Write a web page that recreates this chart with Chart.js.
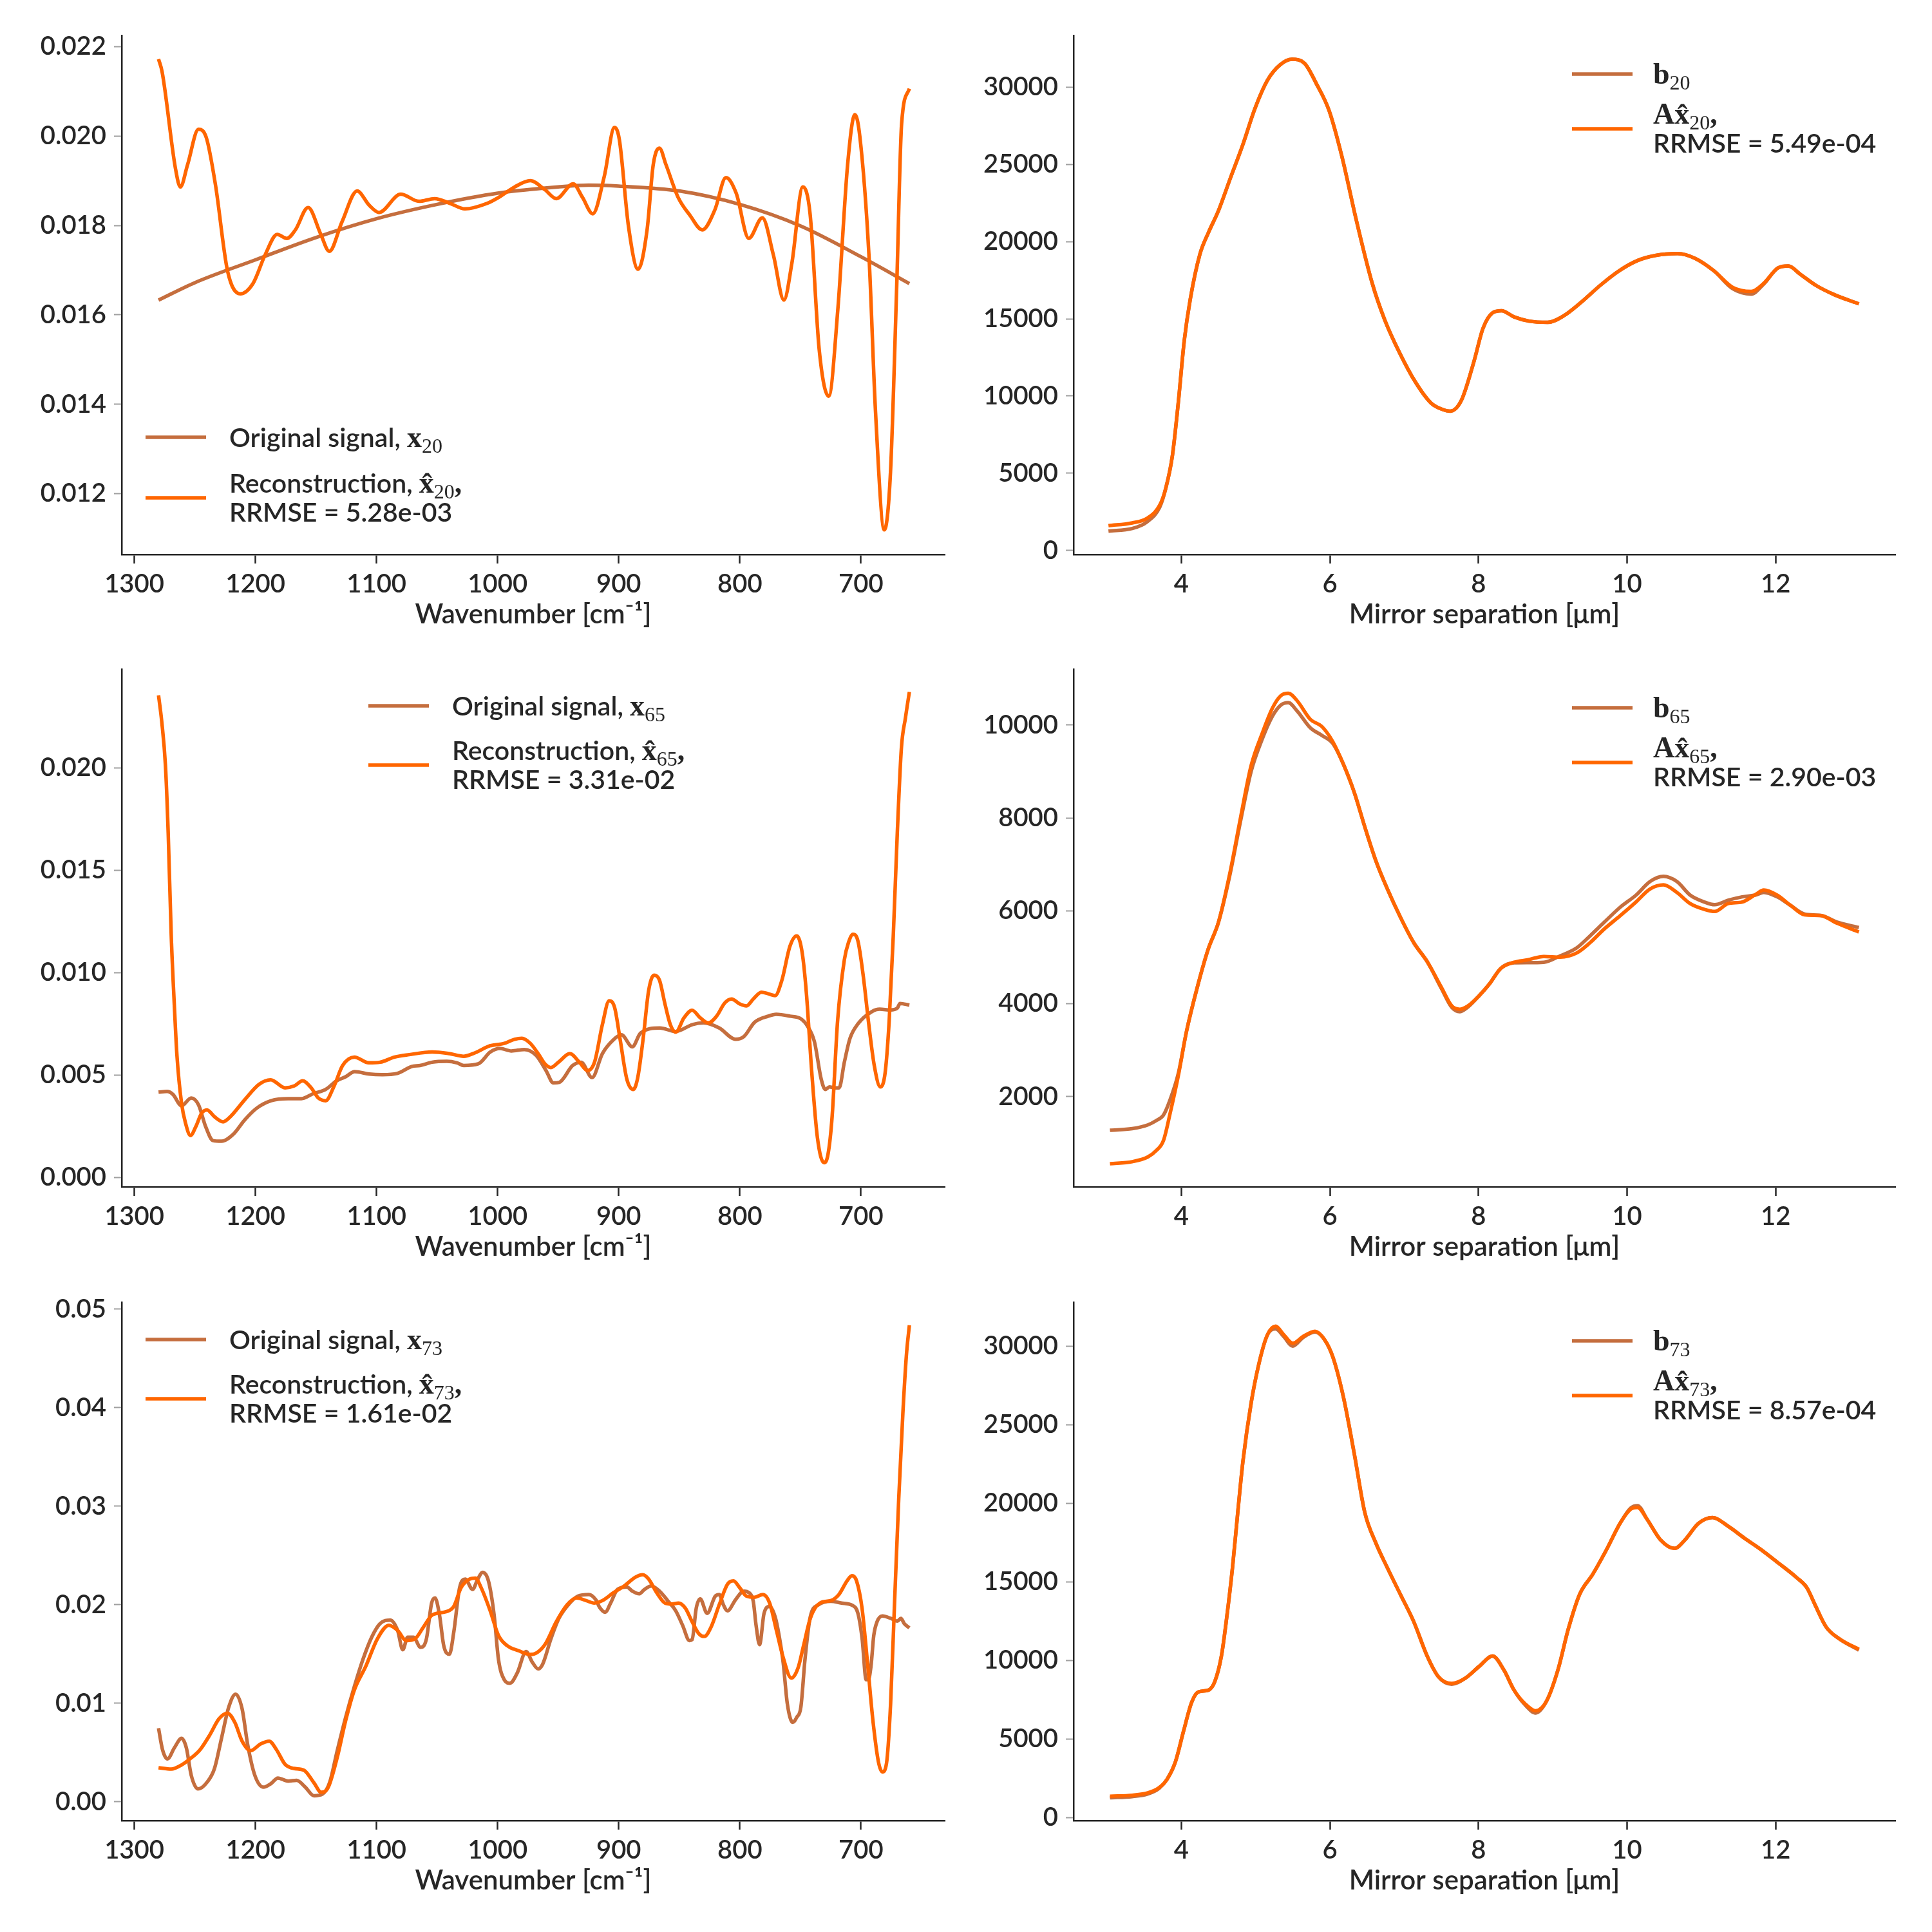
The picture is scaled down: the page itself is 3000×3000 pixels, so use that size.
<!DOCTYPE html>
<html>
<head>
<meta charset="utf-8">
<script src="https://cdn.jsdelivr.net/npm/chart.js@4.4.1/dist/chart.umd.min.js"></script>
<style>
  html, body { margin: 0; padding: 0; background: #fff; }
  #fig { position: relative; width: 3000px; height: 3000px; background: #fff; }
  #fig canvas { position: absolute; }
</style>
</head>
<body>
<div id="fig">
  <canvas id="c1"></canvas><canvas id="c2"></canvas>
  <canvas id="c3"></canvas><canvas id="c4"></canvas>
  <canvas id="c5"></canvas><canvas id="c6"></canvas>
</div>
<script>
// ---- tick labels ----
var wnTicks = [1300, 1200, 1100, 1000, 900, 800, 700];
var sepTicks = [4, 6, 8, 10, 12];
var x20Ticks = [0.012, 0.014, 0.016, 0.018, 0.020, 0.022];
var x65Ticks = [0.000, 0.005, 0.010, 0.015, 0.020];
var x73Ticks = [0.00, 0.01, 0.02, 0.03, 0.04, 0.05];
var b20Ticks = [0, 5000, 10000, 15000, 20000, 25000, 30000];
var b65Ticks = [2000, 4000, 6000, 8000, 10000];
var b73Ticks = [0, 5000, 10000, 15000, 20000, 25000, 30000];

// ---- signal 20 (wavenumber domain) ----
var x20Wn = [1280, 1250, 1200, 1150, 1100, 1050, 1000, 950, 925, 900, 850, 800, 750, 700, 660];
var x20 = [0.01633, 0.01672, 0.01723, 0.01773, 0.01815, 0.01847, 0.01872, 0.01886, 0.01890, 0.01888, 0.01877, 0.01847, 0.01799, 0.01730, 0.01670];
var x20RecWn = [1280, 1277, 1266, 1262, 1256, 1247, 1240.5, 1233, 1223, 1212.5, 1202, 1192, 1182, 1174, 1167, 1156.5, 1146, 1139, 1128.5, 1116, 1106, 1098, 1080, 1065, 1052, 1039, 1027, 1009, 999, 986, 973, 961, 951.5, 937.6, 930, 921.4, 912, 903.5, 899.5, 892, 884, 876.6, 871.5, 866.4, 861, 851, 841, 831, 820.6, 811.5, 803, 792.6, 781.4, 772.3, 763.6, 757, 748, 742, 734.5, 726.6, 719, 711, 705, 701, 693.4, 688, 680.7, 675.6, 670.5, 666.4, 660];
var x20Rec = [0.02172, 0.02143, 0.01927, 0.01886, 0.01936, 0.02015, 0.01996, 0.01891, 0.01698, 0.01647, 0.01670, 0.01734, 0.01780, 0.01771, 0.01790, 0.01840, 0.01780, 0.01742, 0.01808, 0.01877, 0.01845, 0.01829, 0.01870, 0.01854, 0.01860, 0.01849, 0.01837, 0.01849, 0.01863, 0.01886, 0.01900, 0.01880, 0.01860, 0.01893, 0.01863, 0.01826, 0.01909, 0.02019, 0.01992, 0.01799, 0.01702, 0.01790, 0.01936, 0.01973, 0.01936, 0.01863, 0.01822, 0.01790, 0.01835, 0.01907, 0.01872, 0.01771, 0.01817, 0.01734, 0.01633, 0.01716, 0.01886, 0.01826, 0.01523, 0.01418, 0.01615, 0.01936, 0.02048, 0.02001, 0.01734, 0.01385, 0.01119, 0.01248, 0.01661, 0.02028, 0.02106];

// ---- measurement 20 (mirror separation) ----
var sep20 = [3.02, 3.34, 3.54, 3.71, 3.79, 3.88, 3.96, 4.04, 4.12, 4.25, 4.37, 4.50, 4.66, 4.83, 4.99, 5.16, 5.33, 5.49, 5.66, 5.82, 5.99, 6.16, 6.36, 6.57, 6.74, 6.94, 7.15, 7.36, 7.52, 7.62, 7.77, 7.94, 8.06, 8.19, 8.31, 8.48, 8.68, 8.93, 9.14, 9.39, 9.64, 9.89, 10.14, 10.39, 10.68, 10.92, 11.17, 11.42, 11.67, 11.84, 12.03, 12.17, 12.33, 12.54, 12.79, 13.12];
var b20 = [1250, 1420, 1850, 2800, 4000, 6120, 9580, 13580, 16240, 19170, 20630, 22000, 24100, 26300, 28600, 30450, 31450, 31810, 31540, 30210, 28480, 25550, 21300, 17300, 14910, 12780, 10910, 9550, 9120, 9020, 9720, 12250, 14370, 15390, 15520, 15120, 14850, 14770, 15170, 16100, 17170, 18100, 18770, 19110, 19220, 18900, 18100, 16950, 16600, 17250, 18290, 18420, 17890, 17170, 16560, 15970];
var ax20 = [1600, 1780, 2080, 2930, 4000, 6120, 9580, 13580, 16240, 19170, 20630, 22000, 24100, 26300, 28600, 30450, 31450, 31810, 31540, 30210, 28480, 25550, 21300, 17300, 14910, 12780, 10910, 9550, 9120, 9020, 9720, 12250, 14370, 15390, 15520, 15120, 14850, 14770, 15170, 16100, 17170, 18100, 18770, 19110, 19220, 18900, 18100, 17040, 16770, 17300, 18290, 18420, 17890, 17170, 16560, 15970];

// ---- signal 65 ----
var x65Wn = [1280, 1273, 1268, 1261, 1253, 1247, 1241, 1235, 1228, 1218, 1209, 1199, 1187, 1173, 1162, 1152, 1142, 1133, 1125.5, 1118, 1106, 1095, 1083, 1071, 1064, 1054, 1042, 1033.6, 1028, 1016, 1006, 998, 988.6, 978, 968.3, 960, 954, 949, 938, 931, 922, 913.5, 904.5, 897.8, 888.8, 882, 866, 853, 839, 830, 817, 803.5, 796.7, 787.8, 776.5, 770, 758.6, 749.6, 744, 738.4, 732.8, 729.4, 726, 721.5, 718, 713.7, 709, 702.5, 691, 684.5, 675.5, 670, 667.7, 660];
var x65 = [0.00417, 0.00420, 0.00405, 0.00350, 0.00388, 0.00355, 0.00247, 0.00180, 0.00177, 0.00213, 0.00280, 0.00338, 0.00375, 0.00385, 0.00385, 0.00410, 0.00430, 0.00472, 0.00492, 0.00517, 0.00505, 0.00502, 0.00508, 0.00542, 0.00547, 0.00563, 0.00567, 0.00560, 0.00547, 0.00555, 0.00613, 0.00630, 0.00618, 0.00625, 0.00597, 0.00522, 0.00462, 0.00465, 0.00547, 0.00563, 0.00488, 0.00605, 0.00672, 0.00697, 0.00638, 0.00705, 0.00730, 0.00713, 0.00747, 0.00755, 0.00730, 0.00675, 0.00688, 0.00758, 0.00788, 0.00797, 0.00788, 0.00775, 0.00738, 0.00663, 0.00480, 0.00430, 0.00442, 0.00438, 0.00438, 0.00563, 0.00680, 0.00750, 0.00810, 0.00822, 0.00818, 0.00827, 0.00850, 0.00842];
var x65RecWn = [1280, 1277.4, 1274.3, 1272, 1269.5, 1267, 1264.8, 1261, 1257.6, 1253.6, 1249.3, 1244.5, 1240, 1233.8, 1226.7, 1220.7, 1208.8, 1197, 1187.4, 1175.5, 1168, 1161, 1154, 1148, 1142, 1135, 1128, 1118.3, 1106.4, 1097, 1085, 1073, 1054, 1040, 1028, 1018.3, 1006.4, 994.5, 986, 980, 973, 966, 961, 956, 949.4, 940.4, 932.5, 925.8, 920, 913.5, 907.9, 903.4, 899, 893.3, 888, 884.3, 879.8, 875.3, 870.8, 866.3, 861.8, 857.4, 852.9, 846.1, 839.4, 832.7, 826, 819.2, 812.5, 806.8, 800, 794.5, 788.9, 782.2, 776.5, 770.9, 765.3, 758.6, 753, 748.5, 745, 740.6, 736, 730.5, 727.2, 723.8, 719.3, 713.7, 710.3, 706.5, 702.5, 698, 693.5, 689, 684, 680, 676.7, 673.3, 670, 666.6, 663.2, 660];
var x65Rec = [0.02355, 0.02230, 0.02013, 0.01680, 0.01180, 0.00847, 0.00597, 0.00363, 0.00263, 0.00205, 0.00247, 0.00313, 0.00330, 0.00297, 0.00272, 0.00297, 0.00380, 0.00455, 0.00477, 0.00438, 0.00447, 0.00472, 0.00438, 0.00388, 0.00375, 0.00447, 0.00547, 0.00588, 0.00560, 0.00563, 0.00588, 0.00600, 0.00613, 0.00605, 0.00592, 0.00610, 0.00643, 0.00655, 0.00675, 0.00680, 0.00655, 0.00600, 0.00555, 0.00537, 0.00565, 0.00605, 0.00563, 0.00522, 0.00563, 0.00747, 0.00863, 0.00830, 0.00680, 0.00480, 0.00430, 0.00488, 0.00680, 0.00913, 0.00988, 0.00963, 0.00847, 0.00747, 0.00710, 0.00780, 0.00817, 0.00780, 0.00755, 0.00788, 0.00852, 0.00872, 0.00847, 0.00838, 0.00872, 0.00905, 0.00897, 0.00888, 0.00963, 0.01130, 0.01180, 0.01097, 0.00897, 0.00513, 0.00197, 0.00072, 0.00113, 0.00297, 0.00763, 0.01063, 0.01147, 0.01188, 0.01155, 0.00980, 0.00747, 0.00547, 0.00442, 0.00513, 0.00763, 0.01180, 0.01680, 0.02097, 0.02247, 0.02372];

// ---- measurement 65 ----
var sep65 = [3.04, 3.34, 3.55, 3.66, 3.76, 3.85, 3.96, 4.07, 4.21, 4.36, 4.50, 4.65, 4.80, 4.94, 5.09, 5.23, 5.34, 5.44, 5.56, 5.74, 5.89, 6.04, 6.18, 6.33, 6.47, 6.62, 6.77, 6.95, 7.13, 7.31, 7.50, 7.64, 7.75, 7.86, 8.01, 8.15, 8.30, 8.48, 8.66, 8.88, 9.10, 9.32, 9.50, 9.69, 9.91, 10.12, 10.31, 10.49, 10.67, 10.85, 11.04, 11.18, 11.36, 11.55, 11.73, 11.84, 12.02, 12.20, 12.39, 12.61, 12.82, 13.12];
var b65 = [1274, 1310, 1390, 1480, 1600, 1934, 2500, 3400, 4320, 5163, 5750, 6740, 7950, 9000, 9700, 10200, 10430, 10484, 10300, 9934, 9780, 9600, 9163, 8540, 7806, 7072, 6484, 5860, 5310, 4906, 4330, 3920, 3828, 3930, 4173, 4430, 4760, 4880, 4884, 4892, 5030, 5200, 5457, 5750, 6080, 6337, 6631, 6742, 6631, 6337, 6190, 6132, 6227, 6300, 6340, 6396, 6300, 6117, 5930, 5900, 5760, 5640];
var ax65 = [554, 598, 700, 833, 1053, 1640, 2448, 3400, 4320, 5163, 5750, 6778, 8026, 9127, 9824, 10374, 10631, 10683, 10521, 10117, 9971, 9640, 9163, 8540, 7806, 7072, 6484, 5860, 5310, 4906, 4356, 3953, 3880, 3953, 4173, 4430, 4760, 4892, 4943, 5017, 5002, 5090, 5310, 5604, 5897, 6190, 6470, 6558, 6396, 6154, 6030, 5985, 6154, 6190, 6352, 6448, 6338, 6117, 5912, 5897, 5736, 5545];

// ---- signal 73 ----
var x73Wn = [1280, 1276.7, 1272.6, 1267, 1261, 1257, 1253, 1247.4, 1239.8, 1233.8, 1227.9, 1222, 1216.4, 1211, 1206.4, 1200.5, 1193.3, 1187.4, 1181.4, 1173, 1166, 1158.8, 1151.7, 1144.5, 1138.6, 1132.6, 1125.5, 1118.3, 1111.2, 1104, 1097, 1088.6, 1082.6, 1078.3, 1074.3, 1069.5, 1063.6, 1058.8, 1054.5, 1051.7, 1048, 1044.5, 1039.8, 1036.2, 1031.4, 1026.7, 1020.7, 1016.4, 1012.4, 1007.6, 1002.9, 999.3, 994.5, 989.8, 983.8, 976.5, 971.5, 966.5, 962.9, 956, 949.4, 940.4, 933.7, 924.7, 919, 915.7, 911.2, 906.7, 901, 893.3, 888.8, 883.2, 878.7, 873.1, 866.3, 859.6, 852.9, 847.3, 841.6, 839.4, 836, 832.7, 827, 820.3, 817, 813.6, 810.2, 803.5, 796.7, 792.3, 788.9, 786.6, 783.7, 780, 775.4, 770.9, 767.6, 764.2, 760.8, 756.3, 753, 749.6, 746.2, 741.8, 735, 724.9, 716, 707, 702.5, 699, 695.7, 693.9, 691.7, 689.4, 686.7, 682.3, 675.5, 669.9, 667, 664.3, 660];
var x73 = [0.00747, 0.00529, 0.00436, 0.00547, 0.00644, 0.00547, 0.00270, 0.00131, 0.00201, 0.00339, 0.00651, 0.00962, 0.01093, 0.00945, 0.00581, 0.00270, 0.00149, 0.00183, 0.00242, 0.00211, 0.00218, 0.00149, 0.00062, 0.00080, 0.00201, 0.00512, 0.00858, 0.01170, 0.01446, 0.01671, 0.01810, 0.01844, 0.01740, 0.01543, 0.01671, 0.01671, 0.01567, 0.01654, 0.02017, 0.02069, 0.01896, 0.01585, 0.01498, 0.01723, 0.02173, 0.02260, 0.02156, 0.02260, 0.02329, 0.02242, 0.01896, 0.01446, 0.01239, 0.01204, 0.01308, 0.01525, 0.01420, 0.01349, 0.01394, 0.01654, 0.01862, 0.02017, 0.02087, 0.02104, 0.02052, 0.01972, 0.01924, 0.02017, 0.02156, 0.02180, 0.02138, 0.02111, 0.02156, 0.02190, 0.02138, 0.02042, 0.01938, 0.01792, 0.01637, 0.01647, 0.01965, 0.02059, 0.01913, 0.02087, 0.02104, 0.02000, 0.01938, 0.02052, 0.02138, 0.02121, 0.02035, 0.01792, 0.01595, 0.01913, 0.01983, 0.01879, 0.01689, 0.01412, 0.00997, 0.00806, 0.00858, 0.00962, 0.01446, 0.01879, 0.02000, 0.02035, 0.02017, 0.01993, 0.01913, 0.01654, 0.01239, 0.01239, 0.01377, 0.01689, 0.01827, 0.01886, 0.01862, 0.01834, 0.01862, 0.01810, 0.01765];
var x73RecWn = [1280, 1269.5, 1261, 1254, 1245.7, 1237.4, 1230.2, 1223.1, 1217, 1211, 1204, 1195.7, 1188.6, 1182.6, 1175.5, 1168.3, 1160, 1151.7, 1145.7, 1139.8, 1132.6, 1125.5, 1118.3, 1108.8, 1099.3, 1089.8, 1082.6, 1075.5, 1068.3, 1061.2, 1054, 1042.1, 1036.2, 1030.2, 1023.1, 1018.3, 1013.6, 1006.4, 999.3, 992.1, 982.6, 973.1, 967.3, 960.6, 951.6, 942.6, 934.8, 926.9, 920.2, 913.5, 904.5, 895.5, 886.5, 880.2, 875.3, 868.6, 861.8, 856.2, 850.6, 845, 839.4, 833.8, 829.3, 823.7, 817, 810.2, 805.3, 800.1, 794.5, 787.8, 781, 775.4, 769.8, 764.2, 757.5, 751.9, 747.4, 741.8, 733.9, 724.9, 718.2, 711.5, 707.4, 703.6, 699.1, 694.6, 690.1, 685.6, 682.3, 678.9, 675.5, 672.2, 668.8, 665.4, 662.5, 660];
var x73Rec = [0.00346, 0.00332, 0.00374, 0.00436, 0.00529, 0.00685, 0.00841, 0.00900, 0.00806, 0.00616, 0.00519, 0.00588, 0.00616, 0.00529, 0.00381, 0.00339, 0.00322, 0.00194, 0.00097, 0.00149, 0.00443, 0.00824, 0.01135, 0.01377, 0.01654, 0.01792, 0.01740, 0.01637, 0.01654, 0.01775, 0.01896, 0.01931, 0.01983, 0.02173, 0.02260, 0.02270, 0.02173, 0.01948, 0.01689, 0.01585, 0.01533, 0.01495, 0.01516, 0.01602, 0.01827, 0.02000, 0.02069, 0.02042, 0.02017, 0.02042, 0.02121, 0.02190, 0.02277, 0.02304, 0.02260, 0.02121, 0.02017, 0.02007, 0.02017, 0.01965, 0.01827, 0.01706, 0.01678, 0.01775, 0.02000, 0.02208, 0.02242, 0.02173, 0.02087, 0.02076, 0.02104, 0.02017, 0.01740, 0.01464, 0.01256, 0.01360, 0.01585, 0.01862, 0.02017, 0.02042, 0.02104, 0.02242, 0.02294, 0.02242, 0.01965, 0.01412, 0.00824, 0.00408, 0.00304, 0.00391, 0.00997, 0.02035, 0.03073, 0.03938, 0.04526, 0.04837];

// ---- measurement 73 ----
var sep73 = [3.04, 3.34, 3.55, 3.70, 3.81, 3.92, 4.03, 4.14, 4.23, 4.36, 4.45, 4.54, 4.61, 4.69, 4.76, 4.83, 4.94, 5.05, 5.16, 5.27, 5.38, 5.50, 5.64, 5.80, 5.93, 6.04, 6.18, 6.33, 6.47, 6.62, 6.77, 6.95, 7.13, 7.31, 7.46, 7.64, 7.82, 8.01, 8.19, 8.34, 8.48, 8.63, 8.77, 8.92, 9.07, 9.21, 9.36, 9.54, 9.72, 9.91, 10.05, 10.14, 10.27, 10.45, 10.64, 10.78, 10.96, 11.15, 11.36, 11.58, 11.80, 12.02, 12.28, 12.42, 12.53, 12.68, 12.86, 13.12];
var b73 = [1250, 1330, 1500, 1850, 2437, 3525, 5484, 7333, 7986, 8095, 8639, 10271, 12664, 15928, 19410, 22674, 26373, 28985, 30726, 31100, 30600, 30000, 30550, 30900, 30399, 29311, 26809, 23109, 19410, 17452, 15928, 14187, 12447, 10271, 8965, 8480, 8856, 9618, 10271, 9400, 8095, 7150, 6650, 7442, 9400, 12012, 14187, 15493, 17017, 18758, 19700, 19850, 18975, 17670, 17126, 17670, 18714, 19084, 18540, 17778, 17060, 16255, 15276, 14623, 13535, 12120, 11359, 10650];
var ax73 = [1349, 1414, 1567, 1893, 2437, 3525, 5484, 7333, 7986, 8095, 8639, 10271, 12664, 15928, 19410, 22674, 26373, 28985, 30726, 31270, 30726, 30182, 30617, 30943, 30399, 29311, 26809, 23109, 19410, 17452, 15928, 14187, 12447, 10271, 8965, 8530, 8856, 9618, 10271, 9400, 8095, 7224, 6789, 7442, 9400, 12012, 14187, 15493, 17017, 18758, 19628, 19737, 18975, 17670, 17126, 17670, 18714, 19084, 18540, 17778, 17060, 16255, 15276, 14623, 13535, 12120, 11359, 10706];

var BROWN = '#c56e3e';
var ORANGE = '#ff6600';
var INK = '#262626';
var LINE_W = 5.5;
var SANS = 'Lato';
var XAXIS_H = 140;

var FONTS = {
  s: '600 41px ' + SANS,
  m: 'bold 46px "Liberation Serif"',
  sub: '32px "Liberation Serif"'
};

function pts(xs, ys) {
  return xs.map(function(x, i) { return {x: x, y: ys[i]}; });
}

function drawRich(ctx, x, y, parts) {
  var cx = x;
  parts.forEach(function(p) {
    ctx.font = FONTS[p[1]];
    ctx.fillText(p[0], cx, p[1] === 'sub' ? y + 9 : y);
    cx += ctx.measureText(p[0]).width;
  });
}

// legend with mathtext-like labels
var richLegend = {
  id: 'richLegend',
  afterDraw: function(chart, args, opts) {
    if (!opts || !opts.rows) return;
    var ctx = chart.ctx, a = chart.chartArea;
    ctx.save();
    ctx.fillStyle = INK;
    ctx.textBaseline = 'alphabetic';
    ctx.textAlign = 'left';
    opts.rows.forEach(function(row) {
      var y = a.top + row.y;
      ctx.strokeStyle = row.color;
      ctx.lineWidth = LINE_W;
      ctx.beginPath();
      ctx.moveTo(a.left + opts.x0, y);
      ctx.lineTo(a.left + opts.x0 + 94, y);
      ctx.stroke();
      row.lines.forEach(function(parts, i) {
        drawRich(ctx, a.left + opts.tx, y + row.dy[i], parts);
      });
    });
    ctx.restore();
  }
};
Chart.register(richLegend);

function leftLegend(n, rrmse, x0, y1, y2) {
  return {
    x0: x0, tx: x0 + 130,
    rows: [
      {color: BROWN, y: y1, dy: [15], lines: [[['Original signal, ', 's'], ['x', 'm'], [n, 'sub']]]},
      {color: ORANGE, y: y2, dy: [-8, 37], lines: [
        [['Reconstruction, ', 's'], ['x\u0302', 'm'], [n, 'sub'], [',', 'm']],
        [['RRMSE = ' + rrmse, 's']]
      ]}
    ]
  };
}

function rightLegend(n, rrmse) {
  return {
    x0: 774, tx: 900,
    rows: [
      {color: BROWN, y: 60, dy: [15], lines: [[['b', 'm'], [n, 'sub']]]},
      {color: ORANGE, y: 145, dy: [-8, 37], lines: [
        [['A', 'm'], ['x\u0302', 'm'], [n, 'sub'], [',', 'm']],
        [['RRMSE = ' + rrmse, 's']]
      ]}
    ]
  };
}

function makePanel(id, p) {
  var canvas = document.getElementById(id);
  var h = p.area.b + XAXIS_H - p.top;
  canvas.width = 1500;
  canvas.height = h;
  canvas.style.left = p.left + 'px';
  canvas.style.top = p.top + 'px';
  canvas.style.width = '1500px';
  canvas.style.height = h + 'px';

  var tickFont = {family: SANS, size: 40, weight: 600};
  var titleFont = {family: SANS, size: 42, weight: 600};
  new Chart(canvas.getContext('2d'), {
    type: 'line',
    data: {
      datasets: [
        {data: pts(p.origX, p.origY), borderColor: BROWN, order: 2},
        {data: pts(p.recX, p.recY), borderColor: ORANGE, order: 1}
      ]
    },
    options: {
      responsive: false,
      animation: false,
      events: [],
      layout: {padding: {top: p.area.t - p.top, right: p.left + 1500 - p.area.r, left: 0, bottom: 0}},
      elements: {
        line: {borderWidth: LINE_W, cubicInterpolationMode: 'monotone', fill: false, borderCapStyle: 'butt'},
        point: {radius: 0}
      },
      plugins: {legend: {display: false}, tooltip: {enabled: false}, richLegend: p.legend},
      scales: {
        x: {
          type: 'linear', reverse: p.reverse, min: p.xMin, max: p.xMax,
          afterBuildTicks: function(s) { s.ticks = p.xTicks.map(function(v) { return {value: v}; }); },
          afterFit: function(s) { s.height = XAXIS_H; },
          grid: {drawOnChartArea: false, drawTicks: true, tickLength: 14, tickWidth: 2.5, tickColor: INK},
          border: {display: true, color: INK, width: 2.5},
          ticks: {color: INK, font: tickFont, padding: 8, maxRotation: 0, autoSkip: false,
                  callback: function(v) { return String(v); }},
          title: {display: true, text: p.xTitle, color: INK, font: titleFont, padding: {top: 0, bottom: 21}}
        },
        y: {
          type: 'linear', min: p.yMin, max: p.yMax,
          afterBuildTicks: function(s) { s.ticks = p.yTicks.map(function(v) { return {value: v}; }); },
          afterFit: function(s) { s.width = p.area.l - p.left; },
          grid: {drawOnChartArea: false, drawTicks: true, tickLength: 12, tickWidth: 2, tickColor: '#a0a0a0'},
          border: {display: true, color: INK, width: 2.5},
          ticks: {color: INK, font: tickFont, padding: 12, autoSkip: false,
                  callback: function(v) { return p.dec >= 0 ? Number(v).toFixed(p.dec) : String(v); }}
        }
      }
    }
  });
}

var WN_TITLE = 'Wavenumber [cm\u207B\u00B9]';
var SEP_TITLE = 'Mirror separation [\u03BCm]';

makePanel('c1', {left: 0, top: 0, area: {l: 189, r: 1467, t: 55, b: 861}, reverse: true,
  xMin: 630.8, xMax: 1310.4, xTicks: wnTicks, xTitle: WN_TITLE,
  yMin: 0.01064, yMax: 0.02225, yTicks: x20Ticks, dec: 3,
  origX: x20Wn, origY: x20, recX: x20RecWn, recY: x20Rec,
  legend: leftLegend('20', '5.28e-03', 37, 624, 718)});

makePanel('c2', {left: 1500, top: 0, area: {l: 1667, r: 2943, t: 55, b: 861}, reverse: false,
  xMin: 2.55, xMax: 13.61, xTicks: sepTicks, xTitle: SEP_TITLE,
  yMin: -266, yMax: 33354, yTicks: b20Ticks, dec: -1,
  origX: sep20, origY: b20, recX: sep20, recY: ax20,
  legend: rightLegend('20', '5.49e-04')});

makePanel('c3', {left: 0, top: 980, area: {l: 189, r: 1467, t: 1039, b: 1843}, reverse: true,
  xMin: 630.8, xMax: 1310.4, xTicks: wnTicks, xTitle: WN_TITLE,
  yMin: -0.00046, yMax: 0.02483, yTicks: x65Ticks, dec: 3,
  origX: x65Wn, origY: x65, recX: x65RecWn, recY: x65Rec,
  legend: leftLegend('65', '3.31e-02', 383, 57, 149)});

makePanel('c4', {left: 1500, top: 980, area: {l: 1667, r: 2943, t: 1039, b: 1843}, reverse: false,
  xMin: 2.55, xMax: 13.61, xTicks: sepTicks, xTitle: SEP_TITLE,
  yMin: 55, yMax: 11204, yTicks: b65Ticks, dec: -1,
  origX: sep65, origY: b65, recX: sep65, recY: ax65,
  legend: rightLegend('65', '2.90e-03')});

makePanel('c5', {left: 0, top: 1960, area: {l: 189, r: 1467, t: 2022, b: 2827}, reverse: true,
  xMin: 630.8, xMax: 1310.4, xTicks: wnTicks, xTitle: WN_TITLE,
  yMin: -0.0019, yMax: 0.0507, yTicks: x73Ticks, dec: 2,
  origX: x73Wn, origY: x73, recX: x73RecWn, recY: x73Rec,
  legend: leftLegend('73', '1.61e-02', 37, 58, 150)});

makePanel('c6', {left: 1500, top: 1960, area: {l: 1667, r: 2943, t: 2022, b: 2827}, reverse: false,
  xMin: 2.55, xMax: 13.61, xTicks: sepTicks, xTitle: SEP_TITLE,
  yMin: -200, yMax: 32800, yTicks: b73Ticks, dec: -1,
  origX: sep73, origY: b73, recX: sep73, recY: ax73,
  legend: rightLegend('73', '8.57e-04')});
</script>
</body>
</html>
